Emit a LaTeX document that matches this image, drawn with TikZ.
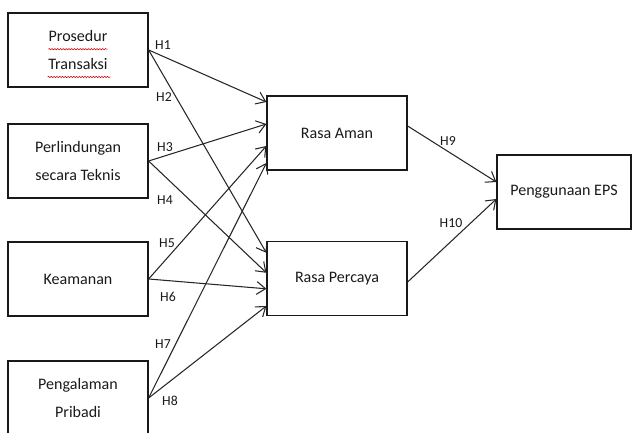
\documentclass[tikz,border=0pt]{standalone}
\usepackage{fontspec}
\setmainfont{Carlito}
\usetikzlibrary{arrows.meta,decorations.pathmorphing}

\begin{document}
\begin{tikzpicture}[
        varbox/.style={draw=black!90, line width=0.9pt, minimum width=3.5cm, minimum height=1.85cm, align=center, font=\fontsize{11.4}{19.9}\selectfont, text=black!90},
        hpath/.style={draw=black!85, line width=0.75pt, -{Straight Barb[length=2.2mm,width=3.2mm]}},
        hlabel/.style={font=\fontsize{9.8}{11}\selectfont, text=black!90, inner sep=0pt},
        spell/.style={draw=red!80!black, line width=0.4pt, decorate, decoration={snake, amplitude=0.45pt, segment length=2pt}}
    ]

        % Define Canvas
        \clip (0,0) rectangle (15.8,10.8);

        % Independent variables
        \node[varbox] (prosedur) at (1.95,9.55) {Prosedur\\Transaksi};
        \node[varbox] (perlindungan) at (1.95,6.775) {Perlindungan\\secara Teknis};
        \node[varbox] (keamanan) at (1.95,3.825) {Keamanan};
        \node[varbox] (pengalaman) at (1.95,0.85) {Pengalaman\\Pribadi};

        % Mediating and dependent variables
        \node[varbox] (aman) at (8.425,7.475) {Rasa Aman};
        \node[varbox] (percaya) at (8.425,3.84) {Rasa Percaya};
        \node[varbox, minimum width=3.35cm] (eps) at (14.1,6.0) {Penggunaan EPS};

        % Spelling marks under the first box
        \draw[spell] ([xshift=-0.74cm,yshift=0.02cm]prosedur.center) -- ([xshift=0.74cm,yshift=0.02cm]prosedur.center);
        \draw[spell] ([xshift=-0.76cm,yshift=-0.675cm]prosedur.center) -- ([xshift=0.81cm,yshift=-0.675cm]prosedur.center);

        % Hypotheses to Rasa Aman
        \draw[hpath] (prosedur.east) -- ([yshift=0.775cm]aman.west);
        \draw[hpath] (perlindungan.east) -- ([yshift=0.225cm]aman.west);
        \draw[hpath] (keamanan.east) -- ([yshift=-0.325cm]aman.west);
        \draw[hpath] (pengalaman.east) -- ([yshift=-0.75cm]aman.west);

        % Hypotheses to Rasa Percaya
        \draw[hpath] (prosedur.east) -- ([yshift=0.64cm]percaya.west);
        \draw[hpath] (perlindungan.east) -- ([yshift=0.14cm]percaya.west);
        \draw[hpath] (keamanan.east) -- ([yshift=-0.26cm]percaya.west);
        \draw[hpath] (pengalaman.east) -- ([yshift=-0.69cm]percaya.west);

        % Hypotheses to Penggunaan EPS
        \draw[hpath] ([yshift=0.175cm]aman.east) -- ([yshift=0.25cm]eps.west);
        \draw[hpath] ([yshift=-0.09cm]percaya.east) -- ([yshift=-0.175cm]eps.west);

        % Labels for hypotheses
        \node[hlabel] (h1) at (4.075,9.675) {H1};
        \node[hlabel] (h2) at (4.1,8.375) {H2};
        \node[hlabel] (h3) at (4.125,7.125) {H3};
        \node[hlabel] (h4) at (4.125,5.8) {H4};
        \node[hlabel] (h5) at (4.175,4.725) {H5};
        \node[hlabel] (h6) at (4.2,3.375) {H6};
        \node[hlabel] (h7) at (4.075,2.2) {H7};
        \node[hlabel] (h8) at (4.25,0.775) {H8};
        \node[hlabel] (h9) at (11.2,7.275) {H9};
        \node[hlabel] (h10) at (11.275,5.225) {H10};

    \end{tikzpicture}
\end{document}
